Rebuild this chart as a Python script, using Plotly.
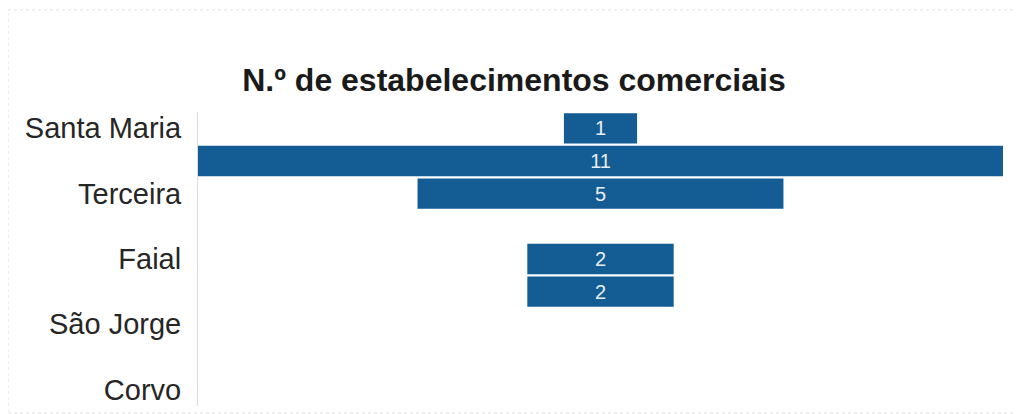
import plotly.graph_objects as go

islands = ["Santa Maria", "São Miguel", "Terceira", "Graciosa", "Faial",
           "Pico", "São Jorge", "Flores", "Corvo"]
values = [1, 11, 5, 0, 2, 2, 0, 0, 0]
shown_labels = ["Santa Maria", "Terceira", "Faial", "São Jorge", "Corvo"]
title = "N.º de estabelecimentos comerciais"

text = [str(v) if v else "" for v in values]

FONT = "Liberation Sans, Arial, sans-serif"

fig = go.Figure(go.Funnel(
    y=islands,
    x=values,
    text=text,
    textinfo="text",
    textposition="inside",
    insidetextanchor="middle",
    textfont=dict(family=FONT, size=20, color="#e8eef5"),
    marker=dict(color="#135d94", line=dict(width=0)),
    connector=dict(visible=False),
    hoverinfo="y+x",
))

# page body has an 8px margin, so the figure origin sits at (8, 8)
OFF = 8
W, H = 1022 - OFF, 414 - OFF
L, R, T, B = 198 - OFF, 19, 112 - OFF, 8
pw, ph = W - L - R, H - T - B

fig.update_layout(
    width=W, height=H,
    margin=dict(l=L, r=R, t=T, b=B),
    paper_bgcolor="white", plot_bgcolor="white",
    funnelgap=0.07,
    showlegend=False,
    title=dict(text="<b>" + title + "</b>", x=(514 - OFF) / W, xref="container", xanchor="center",
               y=1 - (80 - OFF) / H, yref="container", yanchor="middle",
               font=dict(family=FONT, size=32, color="#1a1a1a")),
    font=dict(family=FONT, color="#222222"),
    xaxis=dict(visible=False, range=[-5.5, 5.5], fixedrange=True),
    yaxis=dict(
        tickmode="array", tickvals=shown_labels, ticktext=shown_labels,
        tickfont=dict(size=29, color="#262626"),
        showline=True, linecolor="#dcdcdc", linewidth=1,
        showgrid=False, ticks="", ticklabelstandoff=10,
    ),
    shapes=[dict(type="rect", xref="paper", yref="paper",
                 x0=(8 - OFF - L) / pw, x1=(1020 - OFF - L) / pw,
                 y0=(H - B - (413 - OFF)) / ph, y1=(H - B - (10 - OFF)) / ph,
                 line=dict(color="#e2e2e2", width=1, dash="dot"), layer="below")],
)

fig.write_html("out.html")
